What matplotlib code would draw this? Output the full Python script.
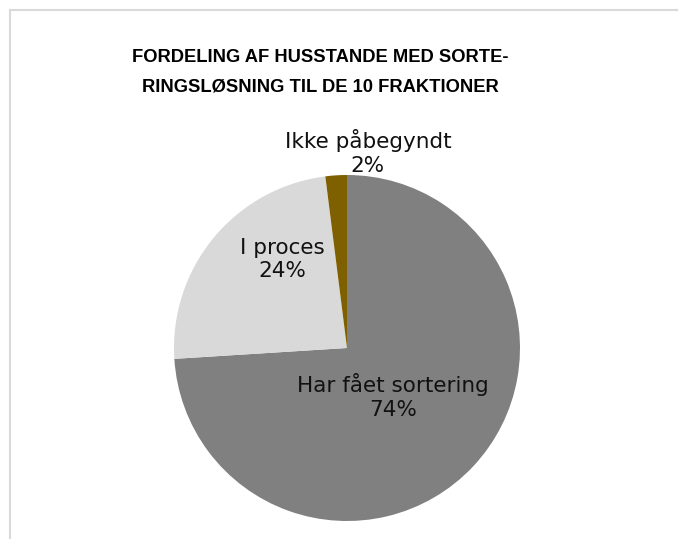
import matplotlib
matplotlib.use("Agg")
import matplotlib.pyplot as plt
from matplotlib.lines import Line2D

categories = ["Har fået sortering", "I proces", "Ikke påbegyndt"]
values = [74, 24, 2]
colors = ["#808080", "#d9d9d9", "#7f6000"]
title_lines = ["FORDELING AF HUSSTANDE MED SORTE-", "RINGSLØSNING TIL DE 10 FRAKTIONER"]

W, H = 678, 539
fig = plt.figure(figsize=(W / 100, H / 100), dpi=100)
fig.patch.set_facecolor("white")

# frame (top and left edges visible)
fig.add_artist(Line2D([9.5 / W, 9.5 / W], [0, 1 - 10 / H], color="#d9d9d9", lw=1.5, transform=fig.transFigure))
fig.add_artist(Line2D([9.5 / W, 1], [1 - 10 / H, 1 - 10 / H], color="#d9d9d9", lw=1.5, transform=fig.transFigure))

cx, cy, r = 347, 348, 173
ax = fig.add_axes([(cx - r) / W, (H - cy - r) / H, 2 * r / W, 2 * r / H])
ax.pie(values, colors=colors, startangle=90, counterclock=False, radius=1,
       wedgeprops=dict(linewidth=0))
ax.set_xlim(-1, 1)
ax.set_ylim(-1, 1)
ax.set_aspect("equal")
ax.axis("off")

lab_font = dict(family="DejaVu Sans", fontsize=15.5, color="#111111", ha="center",
                va="center", multialignment="center", linespacing=1.2)
positions = {
    "Har fået sortering": (0.266, -0.280),
    "I proces": (-0.376, 0.512),
    "Ikke påbegyndt": (0.121, 1.130),
}
for cat, val in zip(categories, values):
    x, y = positions[cat]
    ax.text(x, y, f"{cat}\n{val}%", clip_on=False, **lab_font)

fig.text(320 / W, 1 - 57 / H, title_lines[0], ha="center", va="center",
         fontsize=13.2, fontweight="bold", family="Liberation Sans", color="#000000")
fig.text(320 / W, 1 - 87 / H, title_lines[1], ha="center", va="center",
         fontsize=13.2, fontweight="bold", family="Liberation Sans", color="#000000")

fig.savefig("out.png", dpi=100, facecolor="white")
